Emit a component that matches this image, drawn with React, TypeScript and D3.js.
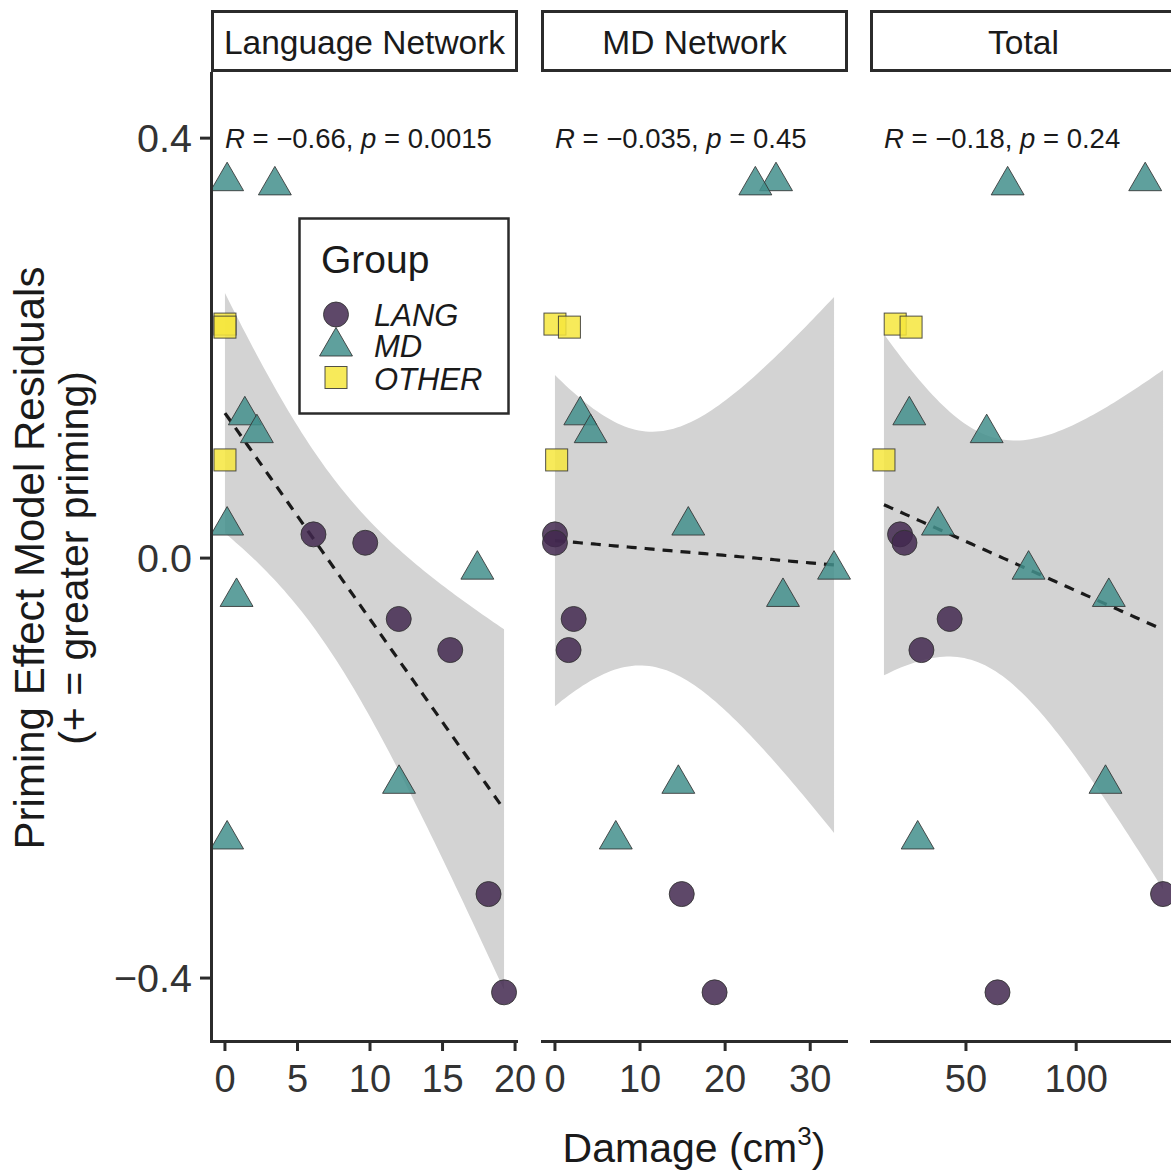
import React from 'react'
import * as d3 from 'd3'

// one entry per participant
const groups = [
  'LANG', 'LANG', 'LANG', 'LANG', 'LANG', 'LANG',
  'MD', 'MD', 'MD', 'MD', 'MD', 'MD', 'MD', 'MD', 'MD',
  'OTHER', 'OTHER', 'OTHER',
]
const residuals = [
  0.0226, 0.0146, -0.058, -0.0876, -0.32, -0.4136,
  0.359, 0.355, 0.136, 0.119, 0.031, -0.011, -0.037, -0.215, -0.268,
  0.2229, 0.22, 0.0935,
]
const langDamage = [
  6.1, 9.67, 11.98, 15.53, 18.17, 19.24,
  0.15, 3.44, 1.37, 2.2, 0.15, 17.4, 0.8, 12.0, 0.15,
  0.0, 0.0, 0.0,
]
const mdDamage = [
  0.0, 0.0, 2.2, 1.6, 14.9, 18.76,
  25.98, 23.55, 2.98, 4.2, 15.67, 32.8, 26.8, 14.5, 7.15,
  0.0, 1.7, 0.2,
]
const totalDamage = [
  20.1, 22.1, 42.6, 29.8, 139.4, 64.3,
  131.3, 68.9, 24.3, 59.4, 37.3, 78.4, 114.8, 113.3, 28.1,
  17.9, 25.1, 12.8,
]

const panelNames = ['Language Network', 'MD Network', 'Total']
const rLabels = ['\u22120.66', '\u22120.035', '\u22120.18']
const pLabels = ['0.0015', '0.45', '0.24']
const xTicks = [[0, 5, 10, 15, 20], [0, 10, 20, 30], [50, 100]]
const yTicks = [-0.4, 0.0, 0.4]
const groupNames = ['LANG', 'MD', 'OTHER']

const font = "'Liberation Sans', Arial, sans-serif"
const ink = '#2b2b2b'
const fills: Record<string, string> = { LANG: '#42284f', MD: '#438f8c', OTHER: '#f6e63d' }

const top = 72
const bottom = 1040
const panelLefts = [211, 541, 870]
const panelWidth = 307
const triR = 19
const circR = 12.5
const sq = 22

const y = d3.scaleLinear().domain([-0.459, 0.463]).range([bottom, top])

function marker(group: string, cx: number, cy: number, key: string | number) {
  const common = {
    fill: fills[group],
    fillOpacity: 0.85,
    stroke: '#333',
    strokeWidth: 1,
    strokeOpacity: 0.85,
  }
  if (group === 'LANG') return <circle key={key} cx={cx} cy={cy} r={circR} {...common} />
  if (group === 'MD') {
    const p = d3.path()
    p.moveTo(cx, cy - triR)
    p.lineTo(cx + 0.866 * triR, cy + triR / 2)
    p.lineTo(cx - 0.866 * triR, cy + triR / 2)
    p.closePath()
    return <path key={key} d={p.toString()} {...common} />
  }
  return <rect key={key} x={cx - sq / 2} y={cy - sq / 2} width={sq} height={sq} {...common} />
}

// lm fit with 95% band, like geom_smooth(method = 'lm')
function fit(xs: number[], ys: number[]) {
  const n = xs.length
  const mx = d3.mean(xs) as number
  const my = d3.mean(ys) as number
  let sxx = 0, sxy = 0
  xs.forEach((v, i) => {
    sxx += (v - mx) * (v - mx)
    sxy += (v - mx) * (ys[i] - my)
  })
  const b = sxy / sxx
  const a = my - b * mx
  let sse = 0
  xs.forEach((v, i) => {
    const e = ys[i] - (a + b * v)
    sse += e * e
  })
  const s = Math.sqrt(sse / (n - 2))
  const t = 2.1199 // qt(0.975, 16)
  const [lo, hi] = d3.extent(xs) as [number, number]
  return d3.range(0, 81).map(k => {
    const xv = lo + ((hi - lo) * k) / 80
    const yv = a + b * xv
    const se = s * Math.sqrt(1 / n + ((xv - mx) * (xv - mx)) / sxx)
    return { x: xv, y: yv, lo: yv - t * se, hi: yv + t * se }
  })
}

function Panel({ idx, xs }: { idx: number; xs: number[] }) {
  const left = panelLefts[idx]
  const [mn, mx] = d3.extent(xs) as [number, number]
  const pad = (mx - mn) * 0.05
  const x = d3.scaleLinear().domain([mn - pad, mx + pad]).range([left, left + panelWidth])
  const band = fit(xs, residuals)
  const area = d3.area<any>().x(d => x(d.x)).y0(d => y(d.lo)).y1(d => y(d.hi))
  const line = d3.line<any>().x(d => x(d.x)).y(d => y(d.y))

  return (
    <g>
      {/* strip */}
      <rect x={left + 1.5} y={11.5} width={panelWidth - 3} height={59} fill="#fff" stroke={ink} strokeWidth={3} />
      <text x={left + panelWidth / 2} y={42} textAnchor="middle" dominantBaseline="central"
        fontSize={33.5} fill="#1a1a1a" fontFamily={font}>{panelNames[idx]}</text>

      <path d={area(band) as string} fill="#d3d3d3" />
      <path d={line(band) as string} fill="none" stroke="#1a1a1a" strokeWidth={3.2} strokeDasharray="10,8" />

      {xs.map((v, i) => marker(groups[i], x(v), y(residuals[i]), i))}

      <text x={x(mn)} y={y(0.4)} dominantBaseline="central" fontSize={27.5} fill="#1a1a1a" fontFamily={font}>
        <tspan fontStyle="italic">R</tspan> = {rLabels[idx]}, <tspan fontStyle="italic">p</tspan> = {pLabels[idx]}
      </text>

      {/* bottom axis */}
      <line x1={left} x2={left + panelWidth} y1={bottom + 1.5} y2={bottom + 1.5} stroke={ink} strokeWidth={3} />
      {xTicks[idx].map(t => (
        <g key={t}>
          <line x1={x(t)} x2={x(t)} y1={bottom} y2={bottom + 11} stroke={ink} strokeWidth={3} />
          <text x={x(t)} y={1079} textAnchor="middle" dominantBaseline="central" fontSize={38}
            fill="#333" fontFamily={font}>{t}</text>
        </g>
      ))}
    </g>
  )
}

export default function App() {
  const series = [langDamage, mdDamage, totalDamage]
  return (
    <svg width={1171} height={1174} style={{ position: 'absolute', left: 0, top: 0, background: '#fff' }}>
      <rect width={1171} height={1174} fill="#fff" />
      {series.map((xs, i) => <Panel key={i} idx={i} xs={xs} />)}

      {/* left axis */}
      <line x1={211.5} x2={211.5} y1={top} y2={bottom + 3} stroke={ink} strokeWidth={3} />
      {yTicks.map(t => (
        <g key={t}>
          <line x1={200} x2={211} y1={y(t)} y2={y(t)} stroke={ink} strokeWidth={3} />
          <text x={192} y={y(t)} textAnchor="end" dominantBaseline="central" fontSize={39.5}
            fill="#333" fontFamily={font}>{t === 0 ? '0.0' : d3.format('.1f')(t).replace('-', '\u2212')}</text>
        </g>
      ))}

      {/* legend */}
      <rect x={299.5} y={218.5} width={209} height={195} fill="#fff" stroke={ink} strokeWidth={2.5} />
      <text x={321} y={273} fontSize={39} fill="#1a1a1a" fontFamily={font}>Group</text>
      {groupNames.map((g, i) => (
        <g key={g}>
          {marker(g, 336, [314.5, 346.5, 377.5][i], g)}
          <text x={374} y={[325.5, 356.5, 390][i]} fontSize={31} fontStyle="italic" fill="#1a1a1a" fontFamily={font}>{g}</text>
        </g>
      ))}

      {/* axis titles */}
      <text x={694} y={1162} textAnchor="middle" fontSize={41} fill="#1a1a1a" fontFamily={font}>
        Damage (cm<tspan fontSize={26} dy={-17}>3</tspan><tspan dy={17}>)</tspan>
      </text>
      <g transform="translate(44,558) rotate(-90)">
        <text x={0} y={0} textAnchor="middle" fontSize={42} fill="#1a1a1a" fontFamily={font}>Priming Effect Model Residuals</text>
        <text x={0} y={44} textAnchor="middle" fontSize={41} fill="#1a1a1a" fontFamily={font}>(+ = greater priming)</text>
      </g>
    </svg>
  )
}
